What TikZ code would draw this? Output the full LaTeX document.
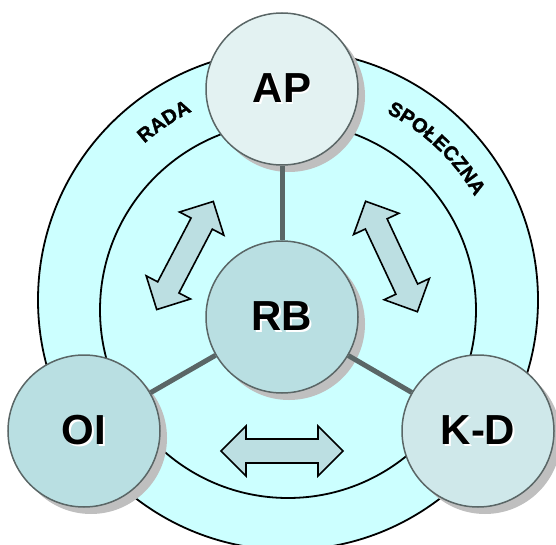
\documentclass[tikz,border=0pt]{standalone}
\usepackage{fontspec}
\usepackage{tikz}
\usetikzlibrary{shadows,decorations.text,calc}
\newfontfamily\lblfont{Liberation Sans}
\newfontfamily\ringfont{Liberation Sans Bold}[FakeBold=1.5]
\definecolor{ringc}{HTML}{CCFFFF}
\definecolor{apc}{HTML}{E3F2F2}
\definecolor{rbc}{HTML}{B9DFE2}
\definecolor{kdc}{HTML}{CFE8EA}
\definecolor{bord}{HTML}{5A6666}
\definecolor{arrc}{HTML}{BCDFE2}
\newcommand\shtxt[1]{\makebox[0pt][l]{\hspace{1.5pt}\raisebox{-1.5pt}{\color{white}#1}}#1}
\tikzset{big/.style={circle,draw=bord,line width=1.5pt,minimum size=152pt,inner sep=0pt,font=\lblfont\bfseries\fontsize{42}{42}\selectfont,drop shadow={shadow xshift=7pt,shadow yshift=-7pt,opacity=1,fill=black!25}},con/.style={draw=bord,line width=5pt},rng/.style={draw=black,line width=1.8pt,fill=ringc},blk/.style={draw=black,line width=1.6pt,fill=arrc,line join=miter}}
\tikzset{rtxt/.style={decorate,decoration={text along path,text align=center,text={|\ringfont\fontsize{20}{20}\selectfont|#1}}}}
\tikzset{pics/dbl/.style={code={\draw[blk] (-61,0) -- (-36,25) -- (-36,12) -- (36,12) -- (36,25) -- (61,0) -- (36,-25) -- (36,-12) -- (-36,-12) -- (-36,-25) -- cycle;}}}

\begin{document}
\begin{tikzpicture}[x=1pt,y=1pt]
\path[use as bounding box,clip] (0,0) rectangle (556,544);
\draw[rng] (288,244) circle[radius=250];
\draw[rng] (288,234) circle[radius=188];
\coordinate (rc) at (288,239);
\path[rtxt=RADA] ($(rc)+(154:216)$) arc[start angle=154,end angle=94,radius=216];
\path[rtxt=SPOŁECZNA] ($(rc)+(76.5:216)$) arc[start angle=76.5,end angle=16.5,radius=216];
\pic[rotate=62.4] at (185,288.5) {dbl};
\pic[rotate=-64.9] at (391.5,287.5) {dbl};
\pic at (282,93) {dbl};
\node[big,fill=apc] (ap) at (282,455) {\shtxt{AP}};
\node[big,fill=rbc] (rb) at (282,227) {\shtxt{RB}};
\node[big,fill=rbc] (oi) at (84,113) {\shtxt{OI}};
\node[big,fill=kdc] (kd) at (478,113) {\shtxt{K-D}};
\draw[con] (rb) edge (ap) edge (oi) edge (kd);
\end{tikzpicture}
\end{document}
